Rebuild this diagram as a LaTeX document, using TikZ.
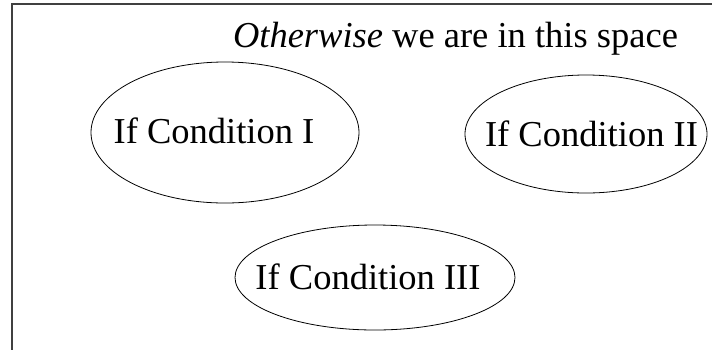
\documentclass[tikz,border=0pt]{standalone}
\usepackage{fontspec}
\setmainfont{Liberation Serif}
\usetikzlibrary{shapes.geometric}
\tikzset{
  frame/.style={draw=black!75, line width=0.65pt},
  cond/.style={draw, ellipse, line width=0.4pt, inner sep=0pt},
  condtext/.style={anchor=base, inner sep=0pt, font=\fontsize{18.25}{22}\selectfont},
}

\begin{document}
\begin{tikzpicture}[x=0.5pt, y=-0.5pt]
\useasboundingbox (0,0) rectangle (712,349);
\clip (0,0) rectangle (712,349);

% outer space (open to the right and below)
\coordinate (fb) at (12,360);
\coordinate (ft) at (12,4);
\coordinate (fr) at (730,4);
\draw[frame] (fb) -- (ft) -- (fr);

% title of the space
\node[condtext] (other) at (455.5,47) {\textit{Otherwise} we are in this space};

% conditions
\node[cond, minimum width=134pt, minimum height=70.5pt] (condI) at (225,132.5) {};
\node[condtext] (txtI) at (214,143) {If Condition I};

\node[cond, minimum width=121pt, minimum height=59pt] (condII) at (586,134) {};
\node[condtext] (txtII) at (591.5,146) {If Condition II};

\node[cond, minimum width=140pt, minimum height=52.5pt] (condIII) at (375,277.5) {};
\node[condtext] (txtIII) at (368,289) {If Condition III};

\end{tikzpicture}
\end{document}
